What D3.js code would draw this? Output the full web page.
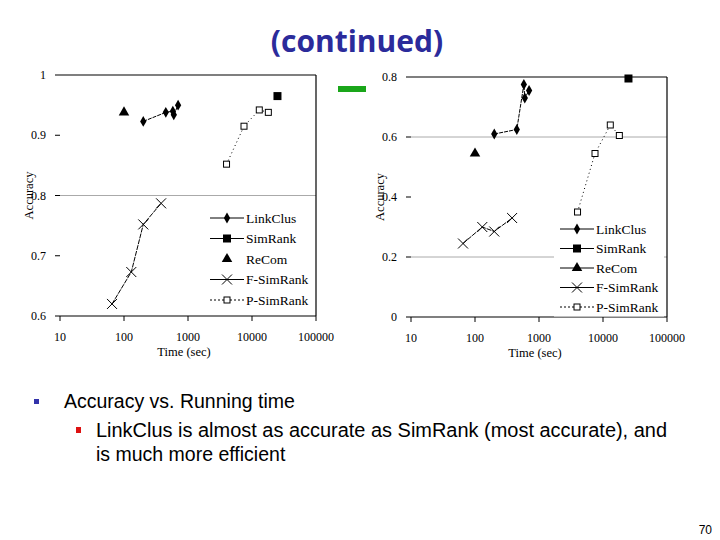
<!DOCTYPE html>
<html><head><meta charset="utf-8">
<script src="https://cdn.jsdelivr.net/npm/d3@7"></script>
<style>body{margin:0;background:#fff}svg{display:block}</style>
</head><body>
<script>
// series names
const seriesNames = ['LinkClus', 'SimRank', 'ReCom', 'F-SimRank', 'P-SimRank'];
const xTicks = [10, 100, 1000, 10000, 100000];

// left chart (time, accuracy)
const leftLinkClus = [[200, 0.923], [450, 0.938], [580, 0.94], [600, 0.934], [700, 0.95]];
const leftSimRank = [[25000, 0.965]];
const leftReCom = [[100, 0.938]];
const leftFSim = [[65, 0.62], [130, 0.673], [200, 0.752], [380, 0.787]];
const leftPSim = [[4000, 0.852], [7500, 0.915], [13000, 0.942], [18000, 0.938]];
const leftYTicks = [0.6, 0.7, 0.8, 0.9, 1];

// right chart
const rightLinkClus = [[200, 0.61], [450, 0.625], [580, 0.775], [600, 0.73], [700, 0.755]];
const rightSimRank = [[25000, 0.795]];
const rightReCom = [[100, 0.545]];
const rightFSim = [[65, 0.245], [130, 0.3], [200, 0.285], [380, 0.33]];
const rightPSim = [[4000, 0.35], [7500, 0.545], [13000, 0.64], [18000, 0.605]];
const rightYTicks = [0, 0.2, 0.4, 0.6, 0.8];

const svg = d3.select('body').append('svg').attr('width', 720).attr('height', 540);
const serif = 'Liberation Serif, Times New Roman, serif';

svg.append('text').attr('x', 357).attr('y', 52).attr('text-anchor', 'middle')
    .attr('font-family', 'Open Sans, DejaVu Sans, sans-serif').attr('font-weight', 'bold')
    .attr('font-size', 30).attr('fill', '#2b2b9b').text('(continued)');
svg.append('rect').attr('x', 338).attr('y', 86).attr('width', 28).attr('height', 6).attr('fill', '#1aa61a');

function drawSymbol(g, type, x, y) {
    if (type === 'LinkClus') g.append('path').attr('d', d3.symbol(d3.symbolDiamond, 34)()).attr('transform', `translate(${x},${y})`);
    if (type === 'SimRank') g.append('rect').attr('x', x - 4).attr('y', y - 4).attr('width', 8).attr('height', 8);
    if (type === 'ReCom') g.append('path').attr('d', d3.symbol(d3.symbolTriangle, 48)()).attr('transform', `translate(${x},${y})`);
    if (type === 'F-SimRank') g.append('path').attr('d', `M${x - 5},${y - 5}L${x + 5},${y + 5}M${x - 5},${y + 5}L${x + 5},${y - 5}`).attr('stroke', '#000').attr('fill', 'none');
    if (type === 'P-SimRank') g.append('rect').attr('x', x - 3).attr('y', y - 3).attr('width', 6).attr('height', 6).attr('fill', '#fff').attr('stroke', '#000');
}

function chart(opt) {
    const g = svg.append('g');
    const x = d3.scaleLog().domain([10, 100000]).range([opt.x0, opt.x0 + 256]);
    const y = d3.scaleLinear().domain(opt.yDomain).range([opt.y1, opt.y0]);
    const x0 = opt.x0, x1 = opt.x0 + 256;
    opt.grid.forEach(v => g.append('line').attr('x1', x0).attr('x2', x1).attr('y1', y(v)).attr('y2', y(v)).attr('stroke', '#aaa'));
    // frame: top, right, bottom
    [[x0, opt.y0, x1, opt.y0], [x1, opt.y0, x1, opt.y1], [x0, opt.y1, x1, opt.y1]].forEach(s =>
        g.append('line').attr('x1', s[0]).attr('y1', s[1]).attr('x2', s[2]).attr('y2', s[3])
            .attr('stroke', '#000').attr('stroke-width', 1.2));
    opt.yTicks.forEach(v => {
        g.append('line').attr('x1', x0 - 5).attr('x2', x0).attr('y1', y(v)).attr('y2', y(v)).attr('stroke', '#000');
        g.append('text').attr('x', x0 - 14).attr('y', y(v) + 4).attr('text-anchor', 'end')
            .attr('font-family', serif).attr('font-size', 12).text(v);
    });
    xTicks.forEach(v => {
        g.append('line').attr('x1', x(v)).attr('x2', x(v)).attr('y1', opt.y1).attr('y2', opt.y1 + 5).attr('stroke', '#000');
        g.append('text').attr('x', x(v)).attr('y', opt.y1 + 25).attr('text-anchor', 'middle')
            .attr('font-family', serif).attr('font-size', 12).text(v);
    });
    g.append('text').attr('x', (x0 + x1) / 2 - 4).attr('y', opt.y1 + 40).attr('text-anchor', 'middle')
        .attr('font-family', serif).attr('font-size', 12.5).text('Time (sec)');
    g.append('text').attr('transform', `translate(${x0 - 27},${(opt.y0 + opt.y1) / 2}) rotate(-90)`)
        .attr('text-anchor', 'middle').attr('font-family', serif).attr('font-size', 12.5).text('Accuracy');

    const line = d3.line().x(d => x(d[0])).y(d => y(d[1]));
    const data = { 'LinkClus': opt.link, 'SimRank': opt.sim, 'ReCom': opt.recom, 'F-SimRank': opt.fsim, 'P-SimRank': opt.psim };
    g.append('path').attr('d', line(opt.link)).attr('fill', 'none').attr('stroke', '#000').attr('stroke-dasharray', '4,1');
    g.append('path').attr('d', line(opt.fsim)).attr('fill', 'none').attr('stroke', '#000').attr('stroke-dasharray', '5,1');
    g.append('path').attr('d', line(opt.psim)).attr('fill', 'none').attr('stroke', '#000').attr('stroke-dasharray', '1,3');
    seriesNames.forEach(n => data[n].forEach(d => drawSymbol(g, n, x(d[0]), y(d[1]))));

    // legend
    const lg = g.append('g');
    lg.append('rect').attr('x', opt.lx - 6).attr('y', opt.ly - 10).attr('width', 110).attr('height', opt.ls * 5).attr('fill', '#fff');
    seriesNames.forEach((n, i) => {
        const ly = opt.ly + i * opt.ls;
        if (n !== 'ReCom' || opt.recomLine) {
            lg.append('line').attr('x1', opt.lx).attr('x2', opt.lx + 34).attr('y1', ly).attr('y2', ly)
                .attr('stroke', '#000').attr('stroke-dasharray', n === 'P-SimRank' ? '2,2' : null);
        }
        drawSymbol(lg, n, opt.lx + 17, ly);
        lg.append('text').attr('x', opt.lx + 36).attr('y', ly + 4.5).attr('font-family', serif)
            .attr('font-size', 13.5).text(n);
    });
}

chart({ x0: 60, y0: 75, y1: 316, yDomain: [0.6, 1], yTicks: leftYTicks, grid: [0.8],
    link: leftLinkClus, sim: leftSimRank, recom: leftReCom, fsim: leftFSim, psim: leftPSim,
    lx: 210, ly: 218, ls: 20.5, recomLine: false });
chart({ x0: 411, y0: 77, y1: 317, yDomain: [0, 0.8], yTicks: rightYTicks, grid: [0.2, 0.6],
    link: rightLinkClus, sim: rightSimRank, recom: rightReCom, fsim: rightFSim, psim: rightPSim,
    lx: 560, ly: 229, ls: 19.5, recomLine: true });

// bullets
const sans = 'Liberation Sans, Arial, sans-serif';
svg.append('rect').attr('x', 34).attr('y', 399).attr('width', 5).attr('height', 5).attr('fill', '#3333aa');
svg.append('text').attr('x', 64).attr('y', 408).attr('font-family', sans).attr('font-size', 19.5).text('Accuracy vs. Running time');
svg.append('rect').attr('x', 76).attr('y', 427).attr('width', 5).attr('height', 6).attr('fill', '#dd1111');
svg.append('text').attr('x', 96).attr('y', 437).attr('font-family', sans).attr('font-size', 19.5)
    .attr('textLength', 571).attr('lengthAdjust', 'spacingAndGlyphs')
    .text('LinkClus is almost as accurate as SimRank (most accurate), and');
svg.append('text').attr('x', 96).attr('y', 461).attr('font-family', sans).attr('font-size', 19.5).text('is much more efficient');
svg.append('text').attr('x', 712).attr('y', 534).attr('text-anchor', 'end').attr('font-family', sans).attr('font-size', 12).text('70');
</script>
</body></html>
